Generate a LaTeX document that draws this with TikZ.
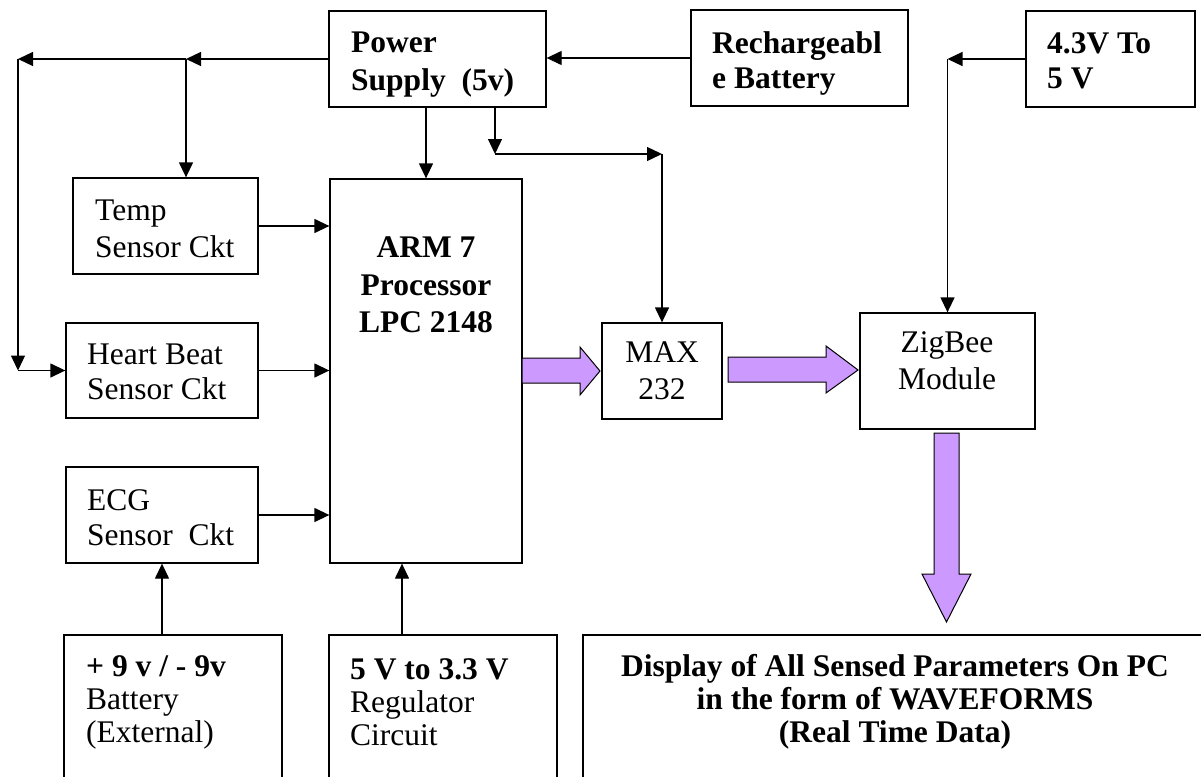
\documentclass[tikz,border=0pt]{standalone}
\usepackage{fontspec}
\setmainfont{Liberation Serif}
\usetikzlibrary{arrows.meta,calc}
\definecolor{fatfill}{RGB}{204,153,255}
\begin{document}
\begin{tikzpicture}[x=1pt,y=-1pt,
  arr/.style={-{Triangle[length=15pt,width=14pt]}, line width=1.3pt},
  box/.style={draw, line width=1.3pt, inner sep=0pt},
  txt/.style={inner sep=0pt, align=left, anchor=west},
  ctxt/.style={inner sep=0pt, align=center},
  fat/.style={draw, line width=1pt, fill=fatfill, line join=miter}
]
\useasboundingbox (0,0) rectangle (1201,776);
\clip (0,0) rectangle (1201,776);

% boxes
\node[box, minimum width=217pt, minimum height=96pt] (ps) at (437.5,59) {};
\node[txt, font=\fontsize{31.5}{38}\selectfont\bfseries] (pst) at (351,65) {Power\\Supply\ \ (5v)};
\node[box, minimum width=217pt, minimum height=96pt] (rb) at (799.5,58) {};
\node[txt, font=\fontsize{31.5}{35}\selectfont\bfseries] (rbt) at (712,63) {Rechargeabl\\e Battery};
\node[box, minimum width=169pt, minimum height=96pt] (v43) at (1110.5,59) {};
\node[txt, font=\fontsize{31.5}{35}\selectfont\bfseries] (v43t) at (1047,61) {4.3V To\\5 V};

\node[box, minimum width=185pt, minimum height=96pt] (temp) at (165.5,226) {};
\node[txt, font=\fontsize{31.5}{37}\selectfont] (tempt) at (95,229) {Temp\\Sensor Ckt};
\node[box, minimum width=192pt, minimum height=95pt] (heart) at (162,370.5) {};
\node[txt, font=\fontsize{31.5}{35}\selectfont] (heartt) at (87,371.5) {Heart Beat\\Sensor Ckt};
\node[box, minimum width=192pt, minimum height=96pt] (ecg) at (162,515) {};
\node[txt, font=\fontsize{31.5}{35}\selectfont] (ecgt) at (87,518) {ECG\\Sensor\ \ Ckt};

\node[box, minimum width=192pt, minimum height=384pt] (arm) at (426,371) {};
\node[ctxt, font=\fontsize{31.5}{37.5}\selectfont\bfseries] (armt) at (426,285)
  {ARM 7\\Processor\\LPC 2148};
\node[box, minimum width=120pt, minimum height=96pt] (max) at (662,371) {};
\node[ctxt, font=\fontsize{31.5}{37}\selectfont] (maxt) at (662,371) {MAX\\232};
\node[box, minimum width=175pt, minimum height=116pt] (zig) at (947.5,371) {};
\node[ctxt, font=\fontsize{31.5}{37}\selectfont] (zigt) at (947,361) {ZigBee\\Module};

\node[box, minimum width=218pt, minimum height=165pt] (bat) at (173,717.5) {};
\node[txt, font=\fontsize{31.5}{33}\selectfont] (batt) at (86,702.5)
  {\textbf{+ 9 v / - 9v}\\Battery\\(External)};
\node[box, minimum width=228pt, minimum height=165pt] (reg) at (443,717.5) {};
\node[txt, font=\fontsize{31.5}{33}\selectfont] (regt) at (350,702.5)
  {\textbf{5 V to 3.3 V}\\Regulator\\Circuit};
\node[box, minimum width=657pt, minimum height=165pt] (disp) at (911.5,717.5) {};
\node[ctxt, font=\fontsize{31.5}{33}\selectfont\bfseries] (dispt) at (895,701.5)
  {Display of All Sensed Parameters On PC\\in the form of WAVEFORMS\\(Real Time Data)};

% junction coordinates
\coordinate (jt) at (186,59);
\coordinate (jl) at (18,59);
\coordinate (jh) at (18,370.5);
\coordinate (jm) at (495,154);
\coordinate (jx) at (max.north |- jm);
\coordinate (jz) at (zig.north |- v43.west);

% thin connectors
\draw[arr] (rb.west) -- (rb.west -| ps.east);
\draw[arr] (ps.west) -- (jt);
\draw[arr] (jt) -- (jl);
\draw[arr] (jt) -- (jt |- temp.north);
\draw[arr] (jl) -- (jh);
\draw[arr] (jh) -- (heart.west);
\draw[arr] (temp.east) -- (temp.east -| arm.west);
\draw[arr] (heart.east) -- (heart.east -| arm.west);
\draw[arr] (ecg.east) -- (ecg.east -| arm.west);
\draw[arr] (arm.north |- ps.south) -- (arm.north);
\draw[arr] (jm |- ps.south) -- (jm);
\draw[arr] (jm) -- (jx);
\draw[arr] (jx) -- (max.north);
\draw[arr] (v43.west) -- (jz);
\draw[arr] (jz) -- (zig.north);
\draw[arr] (ecg.south |- bat.north) -- (ecg.south);
\draw[arr] ([xshift=-41pt]reg.north) -- ([xshift=-41pt]reg.north |- arm.south);

% fat arrows
\draw[fat] (522,358) -- (580,358) -- (580,347) -- (600,371) -- (580,395) -- (580,383) -- (522,383) -- cycle;
\draw[fat] (728,357) -- (826,357) -- (826,346) -- (858,370) -- (826,393) -- (826,382) -- (728,382) -- cycle;
\draw[fat] (934,433) -- (959,433) -- (959,574) -- (971,574) -- (946.5,622) -- (922,574) -- (934,574) -- cycle;
\end{tikzpicture}
\end{document}
